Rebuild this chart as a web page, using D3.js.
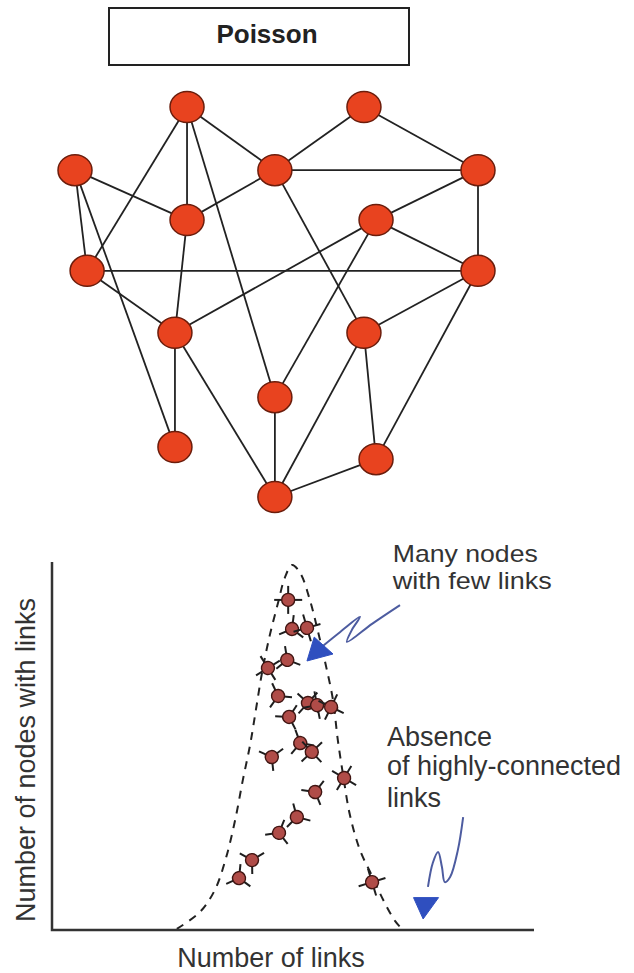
<!DOCTYPE html>
<html>
<head>
<meta charset="utf-8">
<script src="https://cdn.jsdelivr.net/npm/d3@7"></script>
<style>
  html, body { margin: 0; padding: 0; background: #fff; }
  svg { display: block; font-family: "Liberation Sans", Arial, Helvetica, sans-serif; }
</style>
</head>
<body>
<svg id="chart"></svg>
<script>
// --- network (layout units 0..10) ---
const title = "Poisson";
const nodeX = [2.78, 7.17, 0, 4.96, 10, 2.78, 7.47, 0.3, 10, 2.48, 7.17, 4.96, 2.48, 7.47, 4.96];
const nodeY = [0, 0, 1.62, 1.62, 1.62, 2.9, 2.9, 4.2, 4.2, 5.79, 5.79, 7.44, 8.72, 9.03, 10];
const edges = [
    [1, 8], [1, 6], [1, 12], [1, 4], [2, 4], [2, 5], [3, 6], [3, 8], [3, 13],
    [4, 5], [4, 6], [4, 11], [5, 7], [5, 9], [7, 10], [7, 12], [7, 9], [6, 10],
    [8, 9], [8, 10], [9, 11], [9, 14], [10, 13], [10, 15], [11, 15], [11, 14],
    [12, 15], [14, 15]
];

// --- degree distribution (x: links 0..100, y: nodes 0..100) ---
const curveX = [25.9, 30.7, 33.8, 36.1, 38.0, 39.6, 41.1, 42.3, 43.6, 45.2, 46.9, 48.3, 49.8,
                51.5, 53.5, 55.2, 56.8, 58.3, 59.3, 60.4, 61.8, 63.9, 66.4, 68.7, 71.2, 72.6];
const curveY = [0.3, 4.9, 10.9, 19.6, 29.9, 40.8, 50.3, 59.8, 70.1, 80.2, 88.9, 95.7, 99.2,
                97.0, 89.7, 81.0, 72.0, 62.5, 51.6, 42.1, 31.3, 21.7, 14.7, 8.2, 2.4, 0.3];
const degreeX = [49.0, 49.8, 52.9, 48.8, 44.8, 46.9, 53.1, 55.0, 57.9, 49.2,
                 51.5, 53.9, 45.6, 60.6, 54.6, 50.8, 47.1, 41.5, 38.8, 66.4];
const degreeY = [89.7, 81.8, 82.1, 73.4, 71.2, 63.6, 61.7, 61.1, 60.6, 57.9,
                 50.8, 48.4, 47.0, 41.3, 37.5, 30.7, 26.4, 19.0, 14.1, 13.0];
const spokes = [4, 3, 4, 3, 4, 3, 4, 4, 4, 3, 3, 4, 3, 4, 3, 3, 3, 3, 3, 4];

const xLabel = "Number of links";
const yLabel = "Number of nodes with links";
const noteTop = ["Many nodes", "with few links"];
const noteBottom = ["Absence", "of highly-connected", "links"];

// annotation arrows, in chart units
const arrowTop = [[72.2, 88.3], [66.4, 83.2], [61.2, 78.3], [62.2, 81.5], [63.9, 85.1], [59.8, 81.0], [56.2, 77.2]];
const arrowTopHead = [[52.9, 73.1], [54.4, 79.6], [58.3, 75.0]];
const arrowBottom = [[85.3, 30.7], [84.2, 21.7], [82.6, 14.4], [81.5, 13.0], [80.9, 17.1], [80.1, 21.2], [79.0, 18.2], [78.0, 11.7]];
const arrowBottomHead = [[75.0, 8.8], [80.2, 8.8], [77.0, 3.0]];

const width = 634, height = 973;
const svg = d3.select("#chart").attr("width", width).attr("height", height);
svg.append("rect").attr("width", width).attr("height", height).attr("fill", "#fff");

// title box
svg.append("rect")
    .attr("x", 109).attr("y", 8).attr("width", 300).attr("height", 57)
    .attr("fill", "#fff").attr("stroke", "#222").attr("stroke-width", 2);
svg.append("text")
    .attr("x", 267).attr("y", 43)
    .attr("text-anchor", "middle")
    .attr("font-size", 26).attr("font-weight", "bold").attr("fill", "#222")
    .text(title);

// network graph
const nx = d3.scaleLinear().domain([0, 10]).range([75, 478]);
const ny = d3.scaleLinear().domain([0, 10]).range([107, 497]);
const net = svg.append("g");

net.selectAll(".edge")
    .data(edges)
    .enter().append("line")
    .attr("class", "edge")
    .attr("x1", d => nx(nodeX[d[0] - 1]))
    .attr("y1", d => ny(nodeY[d[0] - 1]))
    .attr("x2", d => nx(nodeX[d[1] - 1]))
    .attr("y2", d => ny(nodeY[d[1] - 1]))
    .attr("stroke", "#222")
    .attr("stroke-width", 1.8);

net.selectAll(".node")
    .data(nodeX)
    .enter().append("ellipse")
    .attr("class", "node")
    .attr("cx", (d, i) => nx(nodeX[i]))
    .attr("cy", (d, i) => ny(nodeY[i]))
    .attr("rx", 17).attr("ry", 15.5)
    .attr("fill", "#e8431f")
    .attr("stroke", "#6b1d0c")
    .attr("stroke-width", 1.5);

// distribution chart
const x = d3.scaleLinear().domain([0, 100]).range([52, 534]);
const y = d3.scaleLinear().domain([0, 100]).range([930, 562]);
const plot = svg.append("g");

plot.append("path")
    .datum(curveX.map((v, i) => [v, curveY[i]]))
    .attr("d", d3.line().x(d => x(d[0])).y(d => y(d[1])).curve(d3.curveCatmullRom))
    .attr("fill", "none")
    .attr("stroke", "#222")
    .attr("stroke-width", 2)
    .attr("stroke-dasharray", "8,7");

// axes (no ticks)
plot.append("path")
    .attr("d", `M${x(0)},${y(100)}V${y(0)}H${x(100)}`)
    .attr("fill", "none")
    .attr("stroke", "#333")
    .attr("stroke-width", 2.5);

// little link-nodes
const deg = plot.selectAll(".deg")
    .data(degreeX.map((v, i) => ({ x: v, y: degreeY[i], k: spokes[i], r: (i * 37) % 90 })))
    .enter().append("g")
    .attr("class", "deg")
    .attr("transform", d => `translate(${x(d.x)},${y(d.y)}) rotate(${d.r})`);

deg.each(function (d) {
    const g = d3.select(this);
    for (let s = 0; s < d.k; s++) {
        const a = (2 * Math.PI * s) / d.k;
        g.append("line")
            .attr("x1", 0).attr("y1", 0)
            .attr("x2", 14 * Math.cos(a)).attr("y2", 14 * Math.sin(a))
            .attr("stroke", "#1e1e1e").attr("stroke-width", 2);
    }
});
deg.append("circle")
    .attr("r", 6.5)
    .attr("fill", "#b04c48")
    .attr("stroke", "#401512")
    .attr("stroke-width", 1.4);

// axis titles
svg.append("text")
    .attr("x", 271).attr("y", 967)
    .attr("text-anchor", "middle")
    .attr("font-size", 27).attr("fill", "#333")
    .text(xLabel);
svg.append("text")
    .attr("transform", "translate(35,760) rotate(-90)")
    .attr("text-anchor", "middle")
    .attr("font-size", 27).attr("fill", "#333")
    .text(yLabel);

// notes
svg.append("g").selectAll("text")
    .data(noteTop)
    .enter().append("text")
    .attr("x", x(70.7))
    .attr("y", (d, i) => y([100.0, 92.7][i]))
    .attr("font-size", 24).attr("fill", "#333")
    .attr("textLength", (d, i) => [145, 159][i])
    .attr("lengthAdjust", "spacingAndGlyphs")
    .text(d => d);
svg.append("g").selectAll("text")
    .data(noteBottom)
    .enter().append("text")
    .attr("x", x(69.5))
    .attr("y", (d, i) => y([50.0, 42.1, 33.4][i]))
    .attr("font-size", 27).attr("fill", "#333")
    .text(d => d);

// arrows
const arrowLine = d3.line().x(d => x(d[0])).y(d => y(d[1])).curve(d3.curveCatmullRom);
[[arrowTop, arrowTopHead], [arrowBottom, arrowBottomHead]].forEach(([pts, head]) => {
    svg.append("path")
        .attr("d", arrowLine(pts))
        .attr("fill", "none")
        .attr("stroke", "#4d5ca0")
        .attr("stroke-width", 2);
    svg.append("polygon")
        .attr("points", head.map(p => [x(p[0]), y(p[1])].join(",")).join(" "))
        .attr("fill", "#2f4fbf")
        .attr("stroke", "#2f4fbf")
        .attr("stroke-width", 1);
});
</script>
</body>
</html>
